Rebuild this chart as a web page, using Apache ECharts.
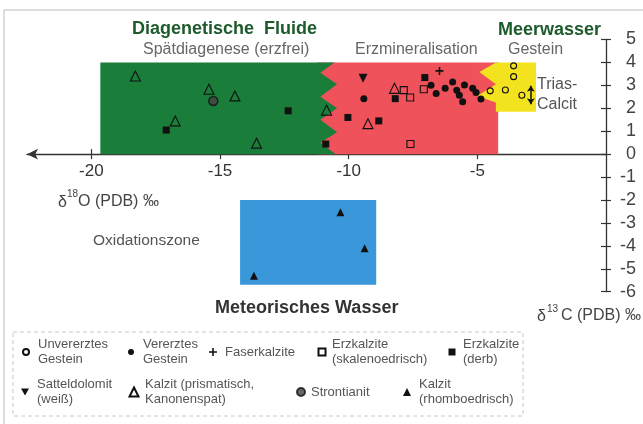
<!DOCTYPE html>
<html><head><meta charset="utf-8">
<script src="https://cdn.jsdelivr.net/npm/echarts@6/dist/echarts.min.js"></script>
<style>html,body{margin:0;padding:0;background:#fff}#c{width:643px;height:424px}</style>
</head><body><div id="c"></div>
<script>
// ---- data (δ18O, δ13C) ----
const xTickValues = [-20, -15, -10, -5];
const unvererzt = [[-4.50,2.76],[-3.91,2.80],[-3.59,3.85],[-3.59,3.38],[-3.27,2.57]];
const vererzt = [[-9.41,2.42],[-6.80,3.00],[-6.60,2.64],[-6.25,2.87],[-5.96,3.15],[-5.80,2.79],[-5.70,2.57],[-5.57,2.29],[-5.50,3.02],[-5.18,2.87],[-5.05,2.69],[-4.86,2.40]];
const faser = [[-6.47,3.63]];
const skaleno = [[-7.86,2.79],[-7.61,2.47],[-7.60,0.44],[-7.08,2.83]];
const derb = [[-17.09,1.05],[-12.35,1.89],[-10.89,0.44],[-10.03,1.60],[-8.83,1.45],[-8.19,2.42],[-7.04,3.34]];
const sattel = [[-9.44,3.31]];
const kalzitPris = [[-18.29,3.41],[-15.43,2.83],[-16.74,1.45],[-14.42,2.54],[-13.58,0.48],[-10.86,1.92],[-9.25,1.33],[-8.22,2.87]];
const strontianit = [[-15.26,2.32]];
const kalzitRhombo = [[-10.32,-2.54],[-9.38,-4.10],[-13.68,-5.30]];
const triasArrow = [[-2.92,2.98],[-2.92,2.18]];
// fluid regions
const redRegion = [[-11.2,0],[-11.2,4],[-4.19,4],[-4.19,0]];
const greenRegion = [[-19.65,0],[-19.65,4],[-10.55,4],[-11.1,3.55],[-10.45,3.05],[-11.1,2.5],[-10.45,2.0],[-11.1,1.5],[-10.45,0.95],[-11.1,0.5],[-10.5,0]];
const yellowRegion = [[-4.28,4],[-2.72,4],[-2.72,1.85],[-4.28,1.85],[-4.28,2.25],[-5.0,2.54],[-4.28,3.05],[-4.92,3.58]];
const blueRegion = [[-14.22,-2.0],[-8.93,-2.0],[-8.93,-5.7],[-14.22,-5.7]];

const FONT = "'Liberation Sans', Arial, sans-serif";
const chart = echarts.init(document.getElementById('c'));

const G = {left: 27, right: 37, top: 39.5, bottom: 132.3};
const zeroY = G.top + 5 / 11 * (424 - G.top - G.bottom);

function region(pts, color, z) {
  return {
    type: 'custom', coordinateSystem: 'cartesian2d', silent: true, clip: false, z: z,
    data: [pts[0]], encode: {x: 0, y: 1},
    renderItem: (params, api) => ({
      type: 'polygon',
      shape: {points: pts.map(p => api.coord(p))},
      style: {fill: color}
    })
  };
}
function sc(name, data, symbol, size, fill, extra) {
  return Object.assign({
    type: 'scatter', name: name, data: data, symbol: symbol, symbolSize: size, z: 10,
    itemStyle: {color: fill, borderColor: '#111', borderWidth: fill === 'transparent' ? 1.1 : 0, opacity: 1}
  }, extra || {});
}

const names = {
  u: 'Unvererztes\nGestein', v: 'Vererztes\nGestein', f: 'Faserkalzite',
  s: 'Erzkalzite\n(skalenoedrisch)', d: 'Erzkalzite\n(derb)',
  sd: 'Satteldolomit\n(weiß)', kp: 'Kalzit (prismatisch,\nKanonenspat)',
  st: 'Strontianit', kr: 'Kalzit\n(rhomboedrisch)'
};

// legend entry: text left x, icon centre x, row centre y, line count, icon size
function leg(name, textX, symX, centerY, lines, w, icon) {
  const pad = textX - symX - 5 - w / 2;
  return {
    data: [icon ? {name: name, icon: icon} : name],
    left: symX - w / 2, top: centerY - lines * 7.5, padding: 0,
    itemWidth: w, itemHeight: w, selectedMode: false,
    textStyle: {fontSize: 13, color: '#555', lineHeight: 15, fontFamily: FONT, padding: [0, 0, 0, pad]}
  };
}

function txt(x, y, text, font, fill, align) {
  return {type: 'text', x: x, y: y, silent: true, z: 50,
    style: {text: text, font: font, fill: fill, align: align || 'left', verticalAlign: 'middle'}};
}

const axisCol = '#333';
chart.setOption({
  animation: false,
  grid: [
    {left: G.left, right: G.right, top: G.top, bottom: G.bottom},
    {left: G.left, right: G.right, top: G.top, bottom: 424 - zeroY}
  ],
  xAxis: [
    {type: 'value', gridIndex: 0, min: -22.5, max: 0, show: false},
    {type: 'value', gridIndex: 1, min: -22.5, max: 0, position: 'bottom',
     axisLine: {onZero: false, lineStyle: {color: axisCol, width: 1.3}, symbol: ['arrow', 'none'], symbolSize: [8, 11]},
     axisTick: {show: true, length: 5, customValues: xTickValues, lineStyle: {color: axisCol, width: 1.2}},
     axisLabel: {customValues: xTickValues, fontSize: 17, color: '#333', margin: 9, fontFamily: FONT},
     splitLine: {show: false}},
    {type: 'value', gridIndex: 1, min: -22.5, max: 0, position: 'bottom',
     axisLine: {show: false, onZero: false},
     axisTick: {show: true, inside: true, length: 5, customValues: xTickValues, lineStyle: {color: axisCol, width: 1.2}},
     axisLabel: {show: false}, splitLine: {show: false}}
  ],
  yAxis: [
    {type: 'value', gridIndex: 0, min: -6, max: 5, interval: 1, position: 'right',
     axisLine: {show: true, lineStyle: {color: axisCol, width: 1.3}},
     axisTick: {show: true, length: 5, lineStyle: {color: axisCol, width: 1.2}},
     axisLabel: {fontSize: 18, color: '#444', margin: 30, align: 'right', fontFamily: FONT},
     splitLine: {show: false}},
    {type: 'value', gridIndex: 0, min: -6, max: 5, interval: 1, position: 'right',
     axisLine: {show: false},
     axisTick: {show: true, inside: true, length: 5, lineStyle: {color: axisCol, width: 1.2}},
     axisLabel: {show: false}, splitLine: {show: false}},
    {type: 'value', gridIndex: 1, min: 0, max: 5, show: false}
  ],
  legend: [
    leg(names.u, 37, 25, 352, 2, 6), leg(names.v, 143, 131, 352, 2, 6), leg(names.f, 225, 213, 352, 1, 8),
    leg(names.s, 331, 321, 352, 2, 7), leg(names.d, 463, 452, 352, 2, 7),
    leg(names.sd, 37, 25, 392, 2, 8, 'path://M0,0L10,0L5,8.66Z'), leg(names.kp, 144, 133, 392, 2, 9),
    leg(names.st, 310, 300, 392, 1, 8), leg(names.kr, 419, 407, 392, 2, 8)
  ],
  series: [
    region(redRegion, '#ef525a', 1),
    region(greenRegion, '#1b7d3a', 2),
    region(yellowRegion, '#f3e31e', 3),
    region(blueRegion, '#3a97da', 1),
    sc(names.u, unvererzt, 'circle', 6, 'transparent'),
    sc(names.v, vererzt, 'circle', 7, '#111'),
    sc(names.f, faser, 'path://M4,0H6V4H10V6H6V10H4V6H0V4H4Z', 8, '#111'),
    sc(names.s, skaleno, 'rect', 7, 'transparent'),
    sc(names.d, derb, 'rect', 7, '#111'),
    sc(names.sd, sattel, 'triangle', 9, '#111', {symbolRotate: 180}),
    sc(names.kp, kalzitPris, 'triangle', 10, 'transparent'),
    sc(names.st, strontianit, 'circle', 9, '#333', {itemStyle: {color: '#444', borderColor: '#111', borderWidth: 1.5}}),
    sc(names.kr, kalzitRhombo, 'triangle', 8, '#111'),
    {type: 'lines', coordinateSystem: 'cartesian2d', silent: true, z: 10,
     symbol: ['arrow', 'arrow'], symbolSize: 6,
     lineStyle: {color: '#111', width: 1.5, opacity: 1},
     data: [{coords: triasArrow}]}
  ],
  graphic: [
    {type: 'rect', silent: true, z: -1, shape: {x: 4, y: 10, width: 700, height: 500},
     style: {fill: 'none', stroke: '#bbb', lineWidth: 1}},
    {type: 'rect', silent: true, z: -1, shape: {x: 13, y: 332, width: 510, height: 84},
     style: {fill: 'none', stroke: '#c8c8c8', lineWidth: 1, lineDash: [4, 3]}},
    txt(132, 29, 'Diagenetische  Fluide', 'bold 18px ' + FONT, '#1d5a2c'),
    txt(143, 50, 'Spätdiagenese (erzfrei)', '16px ' + FONT, '#666'),
    txt(355, 50, 'Erzmineralisation', '16px ' + FONT, '#666'),
    txt(508, 50, 'Gestein', '16px ' + FONT, '#666'),
    txt(498, 30, 'Meerwasser', 'bold 18px ' + FONT, '#1d5a2c'),
    txt(537, 85, 'Trias-', '16px ' + FONT, '#555'),
    txt(537, 105, 'Calcit', '16px ' + FONT, '#555'),
    txt(58, 203, 'δ', '16px ' + FONT, '#444'),
    txt(67, 194, '18', '10px ' + FONT, '#444'),
    txt(78, 202, 'O (PDB) ‰', '16px ' + FONT, '#444'),
    txt(93, 241, 'Oxidationszone', '15.5px ' + FONT, '#555'),
    txt(215, 308, 'Meteorisches Wasser', 'bold 18px ' + FONT, '#333'),
    txt(537, 317, 'δ', '16px ' + FONT, '#444'),
    txt(547, 309, '13', '10px ' + FONT, '#444'),
    txt(561, 316, 'C (PDB) ‰', '16px ' + FONT, '#444')
  ]
});
</script></body></html>
